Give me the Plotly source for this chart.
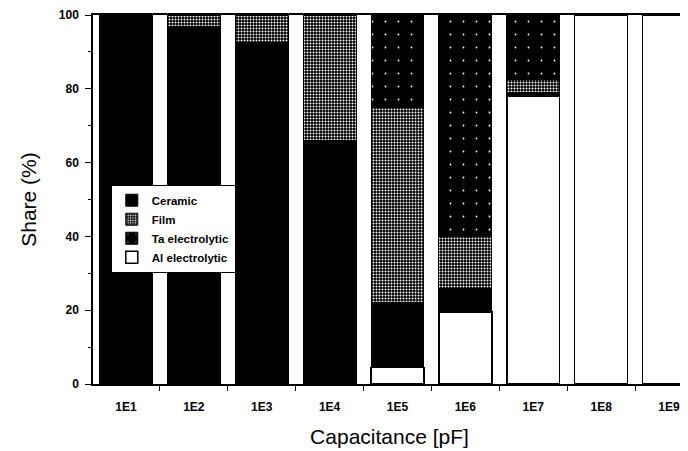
import plotly.graph_objects as go

categories = ["1E1", "1E2", "1E3", "1E4", "1E5", "1E6", "1E7", "1E8", "1E9"]
al_electrolytic = [0, 0, 0, 0, 4.5, 19.5, 78, 100, 100]
ceramic = [100, 97, 92.5, 66, 17.5, 6.5, 1, 0, 0]
film = [0, 3, 7.5, 34, 53, 14, 3.5, 0, 0]
ta_electrolytic = [0, 0, 0, 0, 25, 60, 17.5, 0, 0]

fig = go.Figure()
fig.add_trace(go.Bar(
    x=categories, y=al_electrolytic, name="Al electrolytic", legendrank=4,
    marker=dict(color="white", line=dict(color="black", width=1.5)),
))
fig.add_trace(go.Bar(
    x=categories, y=ceramic, name="Ceramic", legendrank=1,
    marker=dict(color="black", line=dict(color="black", width=1)),
))
fig.add_trace(go.Bar(
    x=categories, y=film, name="Film", legendrank=2,
    marker=dict(color="black", line=dict(color="black", width=1),
                pattern=dict(shape=".", bgcolor="black", fgcolor="white",
                             size=3, solidity=0.35, fillmode="replace")),
))
fig.add_trace(go.Bar(
    x=categories, y=ta_electrolytic, name="Ta electrolytic", legendrank=3,
    marker=dict(color="black", line=dict(color="black", width=1),
                pattern=dict(shape=".", bgcolor="black", fgcolor="white",
                             size=13, solidity=0.015, fillmode="replace")),
))

font_family = "Liberation Sans, Arial, sans-serif"

fig.update_layout(
    barmode="stack",
    bargap=0.22,
    width=680, height=443,
    margin=dict(l=85, r=0, t=7, b=67),
    paper_bgcolor="white", plot_bgcolor="white",
    font=dict(family=font_family, color="black"),
    showlegend=True,
    legend=dict(
        traceorder="normal",
        x=0.03, y=0.54, xanchor="left", yanchor="top",
        bgcolor="white", bordercolor="black", borderwidth=1,
        font=dict(size=11.5, family=font_family, weight="bold"),
        tracegroupgap=0,
    ),
)
fig.update_xaxes(
    type="category",
    range=[-0.485, 8.25],
    showline=True, linecolor="black", linewidth=1.5, mirror=True,
    ticks="outside", tickson="boundaries", ticklen=5, tickcolor="black",
    ticklabelstandoff=11,
    tickfont=dict(size=12, family=font_family, weight="bold"),
    title=dict(text="Capacitance [pF]", font=dict(size=21, family=font_family), standoff=16),
    showgrid=False,
)
fig.update_yaxes(
    range=[0, 100],
    tickvals=[0, 20, 40, 60, 80, 100],
    showline=True, linecolor="black", linewidth=1.5, mirror=True,
    ticks="outside", ticklen=6, tickcolor="black",
    ticklabelstandoff=4,
    minor=dict(ticks="outside", ticklen=3, tickvals=[10, 30, 50, 70, 90], tickcolor="black"),
    tickfont=dict(size=12, family=font_family, weight="bold"),
    title=dict(text="Share (%)", font=dict(size=21, family=font_family), standoff=16),
    showgrid=False, zeroline=False,
)

fig.write_html("out.html")
